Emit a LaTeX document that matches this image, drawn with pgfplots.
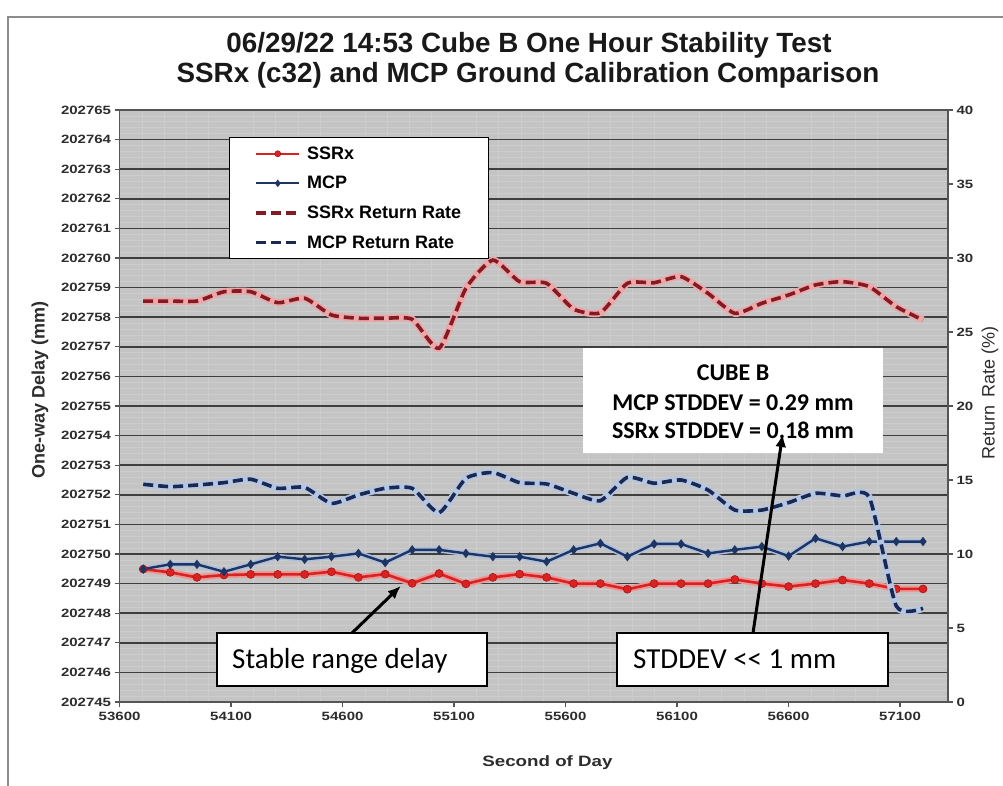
\documentclass[border=0pt]{standalone}
\usepackage{fontspec}
\setmainfont{Liberation Sans}
\newfontfamily\widefont[FakeStretch=1.25]{Liberation Sans}
\newfontfamily\carlito{Carlito}
\usepackage{pgfplots}
\usepackage{pgfplotstable}
\pgfplotsset{compat=1.18}
\usetikzlibrary{arrows.meta}

\definecolor{plotbg}{RGB}{196,196,196}
\definecolor{minorgrid}{RGB}{205,205,205}
\definecolor{majorgrid}{RGB}{62,62,62}
\definecolor{axisgray}{RGB}{85,85,85}
\definecolor{ticktext}{RGB}{45,45,45}
\definecolor{titlecol}{RGB}{25,25,25}
\definecolor{framegray}{RGB}{140,140,140}
\definecolor{ssrxred}{RGB}{218,34,34}
\definecolor{ssrxdark}{RGB}{170,20,20}
\definecolor{ssrxhalo}{RGB}{236,150,150}
\definecolor{mcpnavy}{RGB}{30,52,98}
\definecolor{mcphalo}{RGB}{172,192,222}
\definecolor{rrred}{RGB}{132,26,36}
\definecolor{rrhalo}{RGB}{236,168,168}
\definecolor{rrnavy}{RGB}{26,40,82}
\definecolor{rrnavyhalo}{RGB}{180,198,226}

% delays are stored in mm above 202745 mm (the axis labels give the full values)
\pgfplotstableread{
x ssrx mcp ssrxrr mcprr
53706 4.49 4.49 27.09 14.71
53827 4.38 4.65 27.09 14.55
53947 4.21 4.65 27.09 14.66
54068 4.29 4.40 27.72 14.82
54188 4.31 4.65 27.72 15.05
54309 4.31 4.91 26.98 14.44
54430 4.31 4.82 27.28 14.50
54550 4.40 4.91 26.15 13.42
54671 4.21 5.02 25.93 13.99
54791 4.32 4.71 25.93 14.44
54912 4.01 5.14 25.86 14.44
55033 4.34 5.14 23.90 12.79
55153 3.99 5.02 27.95 15.11
55274 4.21 4.91 29.86 15.50
55394 4.32 4.91 28.40 14.82
55515 4.21 4.74 28.29 14.73
55636 4.00 5.14 26.55 14.10
55756 4.00 5.36 26.30 13.60
55877 3.81 4.91 28.29 15.18
55997 4.00 5.34 28.33 14.78
56118 4.00 5.34 28.74 15.00
56239 4.00 5.02 27.61 14.32
56359 4.14 5.14 26.26 12.97
56480 4.00 5.25 26.94 12.97
56600 3.90 4.93 27.50 13.47
56721 4.00 5.53 28.18 14.10
56842 4.12 5.25 28.40 13.92
56962 4.00 5.42 28.06 13.83
57083 3.82 5.42 26.71 6.49
57203 3.82 5.42 25.81 6.33
}\data

\pgfplotsset{
  ssrxstyle/.style={draw=ssrxred, line width=2.6pt, mark=*, mark size=4pt,
    mark options={fill=ssrxred, draw=ssrxdark, line width=0.6pt, solid}},
  mcpstyle/.style={draw=mcpnavy, line width=2.4pt, mark=diamond*, mark size=2.8pt,
    mark options={fill=mcpnavy, draw=mcpnavy, solid}},
  ssrxrrstyle/.style={draw=rrred, line width=3.6pt, dash pattern=on 10pt off 5pt,
    smooth, tension=0.35, no markers},
  mcprrstyle/.style={draw=rrnavy, line width=3.6pt, dash pattern=on 10pt off 5pt,
    smooth, tension=0.35, no markers},
  commonaxis/.style={
    at={(119.6pt,84pt)}, anchor=south west,
    scale only axis, width=828.4pt, height=592pt,
    xmin=53600, xmax=57315,
    scaled x ticks=false, scaled y ticks=false,
    tick align=outside,
    major tick length=5pt, minor tick length=0pt,
    every tick/.style={draw=axisgray, line width=1.2pt},
    axis line style={draw=axisgray, line width=1.3pt},
    /pgf/number format/1000 sep={},
    /pgf/number format/assume math mode=true,
    tick label style={font=\widefont\bfseries\fontsize{12}{14}\selectfont, text=ticktext},
  },
}

\begin{document}
\begin{tikzpicture}
\useasboundingbox (0pt,0pt) rectangle (1003pt,786pt);
\fill[white] (0pt,0pt) rectangle (1003pt,786pt);
\draw[framegray, line width=2pt] (8pt,0pt) -- (8pt,769pt) -- (1003pt,769pt);

\node[font=\bfseries\fontsize{27.8}{32}\selectfont, text=titlecol] at (529pt,741pt)
  {06/29/22 14:53 Cube B One Hour Stability Test};
\node[font=\bfseries\fontsize{27.8}{32}\selectfont, text=titlecol] at (528pt,711pt)
  {SSRx (c32) and MCP Ground Calibration Comparison};

\begin{axis}[
  commonaxis,
  ymin=0, ymax=20,
  xtick={53600,54100,54600,55100,55600,56100,56600,57100},
  xticklabels={53600,54100,54600,55100,55600,56100,56600,57100},
  minor x tick num=4,
  ytick={0,1,...,20},
  yticklabels={202745,202746,202747,202748,202749,202750,202751,202752,202753,202754,202755,202756,202757,202758,202759,202760,202761,202762,202763,202764,202765},
  minor y tick num=4,
  tick pos=left,
  ymajorgrids=true, yminorgrids=true, xminorgrids=true,
  major grid style={draw=majorgrid, line width=1.5pt},
  minor grid style={draw=minorgrid, line width=0.7pt},
  axis background/.style={fill=plotbg},
  xticklabel style={yshift=-2pt},
  xlabel={Second of Day},
  ylabel={One-way Delay (mm)},
  every axis x label/.style={at={(axis description cs:0.5165,-0.103)}, anchor=center,
    font=\widefont\bfseries\fontsize{15}{18}\selectfont, text=ticktext},
  every axis y label/.style={at={(axis description cs:-0.0961,0.527)}, rotate=90, anchor=center,
    font=\bfseries\fontsize{18}{21}\selectfont, text=ticktext},
]
\addplot[forget plot, draw=ssrxhalo, line width=6.5pt] table[x=x,y=ssrx]{\data};
\addplot[forget plot, draw=mcphalo, line width=5.5pt] table[x=x,y=mcp]{\data};
\addplot[ssrxstyle] table[x=x,y=ssrx]{\data};
\addplot[mcpstyle] table[x=x,y=mcp]{\data};
\end{axis}

\begin{axis}[
  commonaxis,
  ymin=0, ymax=40,
  axis y line*=right, axis x line=none,
  ytick={0,5,...,40},
  yticklabel style={anchor=west},
  ylabel={Return\hspace{0.45em}Rate (\%)},
  every axis y label/.style={at={(axis description cs:1.0507,0.522)}, rotate=90, anchor=center,
    font=\fontsize{18}{21}\selectfont, text=ticktext},
  legend image code/.code={\draw[mark repeat=2,mark phase=2,#1] plot coordinates {(0pt,0pt) (21.5pt,0pt) (43pt,0pt)};},
  legend cell align=left,
  legend style={at={(0.132,0.954)}, anchor=north west, draw=black, line width=1pt, fill=white,
    font=\bfseries\fontsize{18}{20}\selectfont, inner xsep=25pt, inner ysep=7pt,
    row sep=11.5pt, column sep=4pt},
]
\addlegendimage{ssrxstyle, mark size=3pt, line width=2.2pt}
\addlegendentry{SSRx}
\addlegendimage{mcpstyle, mark size=2pt, line width=2.2pt}
\addlegendentry{MCP}
\addplot[forget plot, draw=rrhalo, line width=7pt, smooth, tension=0.35] table[x=x,y=ssrxrr]{\data};
\addplot[forget plot, draw=rrnavyhalo, line width=7pt, smooth, tension=0.35] table[x=x,y=mcprr]{\data};
\addplot[ssrxrrstyle] table[x=x,y=ssrxrr]{\data};
\addlegendentry{SSRx Return Rate}
\addplot[mcprrstyle] table[x=x,y=mcprr]{\data};
\addlegendentry{MCP Return Rate}
\end{axis}

% annotation boxes
\fill[white] (583pt,333pt) rectangle (883pt,438pt);
\node[font=\carlito\bfseries\fontsize{24}{28}\selectfont] at (733pt,413pt) {CUBE B};
\node[font=\carlito\bfseries\fontsize{24}{28}\selectfont] at (733pt,383.5pt) {MCP STDDEV = 0.29 mm};
\node[font=\carlito\bfseries\fontsize{24}{28}\selectfont] at (733pt,356pt) {SSRx STDDEV = 0.18 mm};

\draw[black, line width=1.2pt, fill=white] (217pt,100pt) rectangle (487pt,153pt);
\node[anchor=base west, inner sep=0pt, font=\carlito\fontsize{29}{34}\selectfont] at (232pt,117pt) {Stable range delay};
\draw[black, line width=1.2pt, fill=white] (617pt,100pt) rectangle (888pt,153pt);
\node[anchor=base west, inner sep=0pt, font=\carlito\fontsize{29}{34}\selectfont] at (633pt,117pt) {STDDEV <\kern0pt< 1 mm};

\draw[-{Latex[length=13pt,width=11pt]}, line width=3pt, black] (352pt,153pt) -- (400.7pt,200pt);
\draw[-{Latex[length=13pt,width=11pt]}, line width=3pt, black] (753pt,153pt) -- (782.7pt,352pt);
\end{tikzpicture}
\end{document}
